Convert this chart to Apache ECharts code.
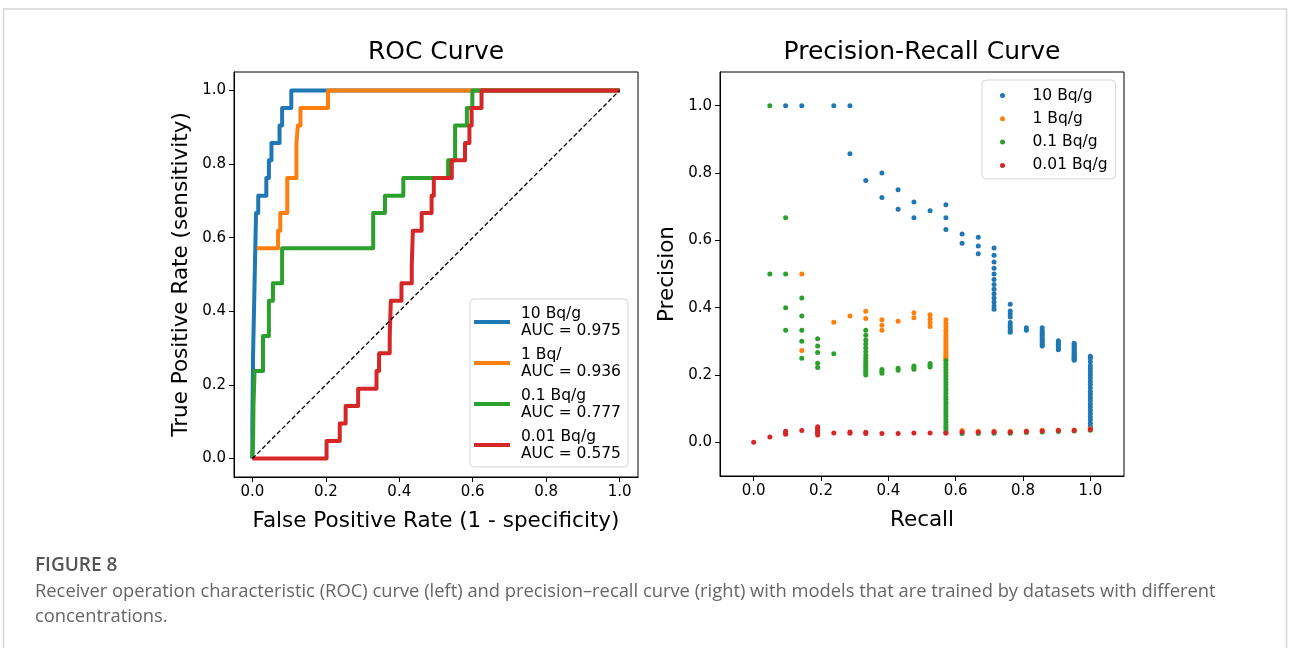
<!DOCTYPE html>
<html>
<head>
<meta charset="utf-8">
<script src="https://cdn.jsdelivr.net/npm/echarts@6/dist/echarts.min.js"></script>
<style>
  html, body { margin: 0; padding: 0; background: #fff; }
  #chart { width: 1290px; height: 648px; }
</style>
</head>
<body>
<div id="chart"></div>
<script>
// Concentration groups, as labelled in the two legends
const concentrations = ['10 Bq/g', '1 Bq/g', '0.1 Bq/g', '0.01 Bq/g'];
const rocLabels = ['10 Bq/g', '1 Bq/', '0.1 Bq/g', '0.01 Bq/g'];
const aucValues = [0.975, 0.936, 0.777, 0.575];
const palette = ['#1f77b4', '#ff7f0e', '#2ca02c', '#d62728'];
const tickValues = [0, 0.2, 0.4, 0.6, 0.8, 1.0];

// ROC step points: [false positive rate, true positive rate]
const roc10 = [[0,0],[0,0.095],[0.001,0.190],[0.002,0.286],[0.004,0.381],[0.006,0.476],[0.008,0.571],[0.010,0.667],
  [0.016,0.667],[0.016,0.714],[0.038,0.714],[0.038,0.762],[0.045,0.762],[0.045,0.810],[0.052,0.810],[0.052,0.857],
  [0.074,0.857],[0.074,0.905],[0.081,0.905],[0.081,0.952],[0.106,0.952],[0.106,1],[1,1]];
const roc1 = [[0.012,0.571],[0.070,0.571],[0.070,0.619],[0.076,0.619],[0.076,0.667],[0.095,0.667],[0.095,0.762],
  [0.120,0.762],[0.120,0.857],[0.124,0.857],[0.124,0.905],[0.131,0.905],[0.131,0.952],[0.206,0.952],[0.206,1],[1,1]];
const roc01 = [[0,0],[0.002,0.048],[0.003,0.143],[0.006,0.143],[0.006,0.238],[0.029,0.238],[0.029,0.333],[0.045,0.333],
  [0.045,0.429],[0.056,0.429],[0.056,0.476],[0.081,0.476],[0.081,0.571],[0.329,0.571],[0.329,0.667],[0.361,0.667],
  [0.361,0.714],[0.411,0.714],[0.411,0.762],[0.533,0.762],[0.533,0.810],[0.552,0.810],[0.552,0.905],[0.584,0.905],
  [0.584,0.952],[0.599,0.952],[0.599,1],[1,1]];
const roc001 = [[0,0],[0.202,0],[0.202,0.048],[0.238,0.048],[0.238,0.095],[0.254,0.095],[0.254,0.143],[0.288,0.143],
  [0.288,0.190],[0.338,0.190],[0.338,0.238],[0.345,0.238],[0.345,0.286],[0.374,0.286],[0.374,0.333],[0.377,0.333],
  [0.377,0.429],[0.406,0.429],[0.406,0.476],[0.434,0.476],[0.434,0.524],[0.437,0.524],[0.437,0.619],[0.461,0.619],
  [0.461,0.667],[0.488,0.667],[0.488,0.714],[0.494,0.714],[0.494,0.762],[0.543,0.762],[0.543,0.810],[0.579,0.810],
  [0.579,0.857],[0.591,0.857],[0.591,0.905],[0.597,0.905],[0.597,0.952],[0.624,0.952],[0.624,1],[1,1]];
const chanceLine = [[0,0],[1,1]];

// Precision-recall points, grouped by recall: [recall, [precisions]]
const pr10 = [
  [0.095,[1.0]],[0.143,[1.0]],[0.238,[1.0]],[0.286,[1.0,0.857]],
  [0.333,[0.778]],[0.381,[0.800,0.727]],[0.429,[0.750,0.692]],[0.476,[0.714,0.667]],
  [0.524,[0.688]],[0.571,[0.706,0.667,0.632]],[0.619,[0.619,0.591]],[0.667,[0.609,0.583,0.560]],
  [0.714,[0.577,0.556,0.536,0.517,0.500,0.484,0.469,0.455,0.441,0.429,0.417,0.405,0.395]],
  [0.762,[0.410,0.390,0.381,0.372,0.356,0.348,0.340,0.333,0.327]],
  [0.810,[0.340,0.333]],
  [0.857,[0.340,0.333,0.327,0.321,0.316,0.310,0.305,0.300,0.295,0.290,0.286]],
  [0.905,[0.302,0.297,0.292,0.288,0.284,0.279,0.275]],
  [0.952,[0.294,0.290,0.286,0.282,0.278,0.274,0.270,0.267,0.263,0.260,0.256,0.253,0.250,0.247,0.244]],
  [1.0,[0.256,0.250,0.239,0.228,0.219,0.210,0.200,0.191,0.181,0.172,0.162,0.152,0.143,0.133,0.124,0.114,
        0.105,0.095,0.086,0.076,0.067,0.057,0.048,0.040]]
];
const pr1 = [
  [0.143,[0.500,0.273]],[0.238,[0.357]],[0.286,[0.375]],[0.333,[0.389,0.368]],
  [0.381,[0.364,0.348,0.333]],[0.429,[0.360]],[0.476,[0.385,0.370]],[0.524,[0.379,0.367,0.355,0.344]],
  [0.571,[0.364,0.353,0.343,0.333,0.324,0.316,0.308,0.300,0.293,0.286,0.279,0.273,0.267,0.261,0.255,0.250,0.245]],
  [0.619,[0.035]],[0.667,[0.033]],[0.714,[0.033]],[0.762,[0.033]],[0.810,[0.034]],
  [0.857,[0.036]],[0.905,[0.036]],[0.952,[0.037]],[1.0,[0.040]]
];
const pr01 = [
  [0.048,[1.0,0.5]],[0.095,[0.667,0.5,0.4,0.333]],[0.143,[0.429,0.375,0.333,0.300,0.250]],
  [0.190,[0.308,0.286,0.267,0.235,0.222]],[0.238,[0.263]],
  [0.333,[0.333,0.318,0.304,0.292,0.280,0.269,0.259,0.250,0.241,0.233,0.226,0.219,0.212,0.206,0.200]],
  [0.381,[0.216,0.211,0.205]],[0.429,[0.220,0.214]],[0.476,[0.227,0.222,0.217]],[0.524,[0.234,0.229,0.224]],
  [0.571,[0.242,0.233,0.224,0.215,0.206,0.197,0.188,0.179,0.171,0.162,0.154,0.145,0.136,0.128,0.119,0.111,
          0.102,0.094,0.085,0.077,0.068,0.060,0.051,0.043,0.035,0.028]],
  [0.619,[0.026]],[0.667,[0.026]],[0.714,[0.027]],[0.762,[0.027]],[0.810,[0.029]],
  [0.857,[0.031]],[0.905,[0.032]],[0.952,[0.034]],[1.0,[0.036]]
];
const pr001 = [
  [0,[0]],[0.048,[0.016]],[0.095,[0.033,0.028,0.024]],[0.143,[0.035]],[0.190,[0.046,0.041,0.036,0.031,0.026,0.022]],
  [0.238,[0.028]],[0.286,[0.031,0.027]],[0.333,[0.030,0.026]],[0.381,[0.026]],[0.429,[0.026]],[0.476,[0.028]],
  [0.524,[0.028]],[0.571,[0.028]],[0.619,[0.031]],[0.667,[0.030]],[0.714,[0.031]],[0.762,[0.030]],[0.810,[0.032]],
  [0.857,[0.034]],[0.905,[0.035]],[0.952,[0.035]],[1.0,[0.038]]
];

const rocSets = [roc10, roc1, roc01, roc001];
const prSets = [pr10, pr1, pr01, pr001];

const FONT = 'DejaVu Sans';
const flatten = groups => groups.flatMap(([r, ps]) => ps.map(p => [r, p]));
const rocNames = rocLabels.map((l, i) => l + '\nAUC = ' + aucValues[i].toFixed(3));

function valueAxis(gridIndex, min, max, name, nameGap) {
  return {
    type: 'value', gridIndex, min, max,
    name, nameLocation: 'middle', nameGap,
    nameTextStyle: { fontFamily: FONT, fontSize: 21.5, color: '#000' },
    axisLine: { show: true, onZero: false, lineStyle: { color: '#000', width: 1 } },
    axisTick: { show: true, inside: false, length: 5, customValues: tickValues,
                lineStyle: { color: '#000', width: 1 } },
    axisLabel: { customValues: tickValues, formatter: v => v.toFixed(1), color: '#000',
                 fontFamily: FONT, fontSize: 15, margin: 8 },
    splitLine: { show: false }
  };
}

const series = [];
rocSets.forEach((pts, i) => series.push({
  name: rocNames[i], type: 'line', xAxisIndex: 0, yAxisIndex: 0,
  data: pts, symbol: 'none', showSymbol: false, color: palette[i],
  lineStyle: { width: 4, color: palette[i], join: 'round' },
  emphasis: { disabled: true }, z: 2 + i
}));
series.push({
  name: 'chance', type: 'line', xAxisIndex: 0, yAxisIndex: 0, data: chanceLine,
  symbol: 'none', lineStyle: { color: '#000', width: 1.3, type: [4.5, 2.5] },
  emphasis: { disabled: true }, z: 10
});
prSets.forEach((groups, i) => series.push({
  name: concentrations[i], type: 'scatter', xAxisIndex: 1, yAxisIndex: 1,
  data: flatten(groups), symbol: 'circle', symbolSize: 5, color: palette[i],
  itemStyle: { color: palette[i], opacity: 1 }, emphasis: { disabled: true }, z: 2 + i
}));

const captionColor = '#666';
const option = {
  animation: false,
  backgroundColor: '#fff',
  grid: [
    { left: 234, top: 72, width: 404, height: 405, show: true, borderColor: '#000', borderWidth: 1, backgroundColor: 'transparent' },
    { left: 720, top: 72, width: 404, height: 404, show: true, borderColor: '#000', borderWidth: 1, backgroundColor: 'transparent' }
  ],
  xAxis: [
    valueAxis(0, -0.05, 1.05, 'False Positive Rate (1 - specificity)', 33),
    valueAxis(1, -0.1, 1.1, 'Recall', 33)
  ],
  yAxis: [
    valueAxis(0, -0.05, 1.05, 'True Positive Rate (sensitivity)', 42),
    valueAxis(1, -0.1, 1.1, 'Precision', 42)
  ],
  legend: [
    {
      data: rocNames, orient: 'vertical', left: 470, top: 299,
      icon: 'rect', itemWidth: 36, itemHeight: 4, itemGap: 7,
      textStyle: { fontFamily: FONT, fontSize: 15.5, lineHeight: 17, color: '#000', padding: [0, 0, 0, 6] },
      backgroundColor: 'rgba(255,255,255,0.8)', borderColor: '#d4d4d4', borderWidth: 1, borderRadius: 4,
      padding: [6, 7, 5, 4], selectedMode: false
    },
    {
      data: concentrations, orient: 'vertical', left: 982, top: 80,
      icon: 'circle', itemWidth: 30, itemHeight: 5, itemGap: 6.3,
      textStyle: { fontFamily: FONT, fontSize: 15.5, lineHeight: 17, color: '#000', padding: [0, 0, 0, 10] },
      backgroundColor: 'rgba(255,255,255,0.8)', borderColor: '#d4d4d4', borderWidth: 1, borderRadius: 4,
      padding: [7, 8, 5, 18], selectedMode: false
    }
  ],
  graphic: [
    { type: 'rect', shape: { x: 3.5, y: 9, width: 1283, height: 700 },
      style: { fill: 'none', stroke: '#d6d6d6', lineWidth: 1.5 }, silent: true },
    { type: 'text', x: 436, y: 52, silent: true,
      style: { text: 'ROC Curve', fontFamily: FONT, fontSize: 25, fill: '#000', align: 'center', verticalAlign: 'middle' } },
    { type: 'text', x: 922, y: 52, silent: true,
      style: { text: 'Precision-Recall Curve', fontFamily: FONT, fontSize: 25, fill: '#000', align: 'center', verticalAlign: 'middle' } },
    { type: 'text', x: 35, y: 566, silent: true,
      style: { text: 'FIGURE 8', fontFamily: 'Open Sans', fontSize: 19, fontWeight: 600, fill: '#555', verticalAlign: 'middle' } },
    { type: 'text', x: 35, y: 592, silent: true,
      style: { text: 'Receiver operation characteristic (ROC) curve (left) and precision\u2013recall curve (right) with models that are trained by datasets with different',
               fontFamily: 'Open Sans', fontSize: 18.35, fill: captionColor, verticalAlign: 'middle' } },
    { type: 'text', x: 35, y: 617, silent: true,
      style: { text: 'concentrations.', fontFamily: 'Open Sans', fontSize: 18.35, fill: captionColor, verticalAlign: 'middle' } }
  ],
  series
};

const chart = echarts.init(document.getElementById('chart'), null, { renderer: 'canvas' });
chart.setOption(option);
</script>
</body>
</html>
